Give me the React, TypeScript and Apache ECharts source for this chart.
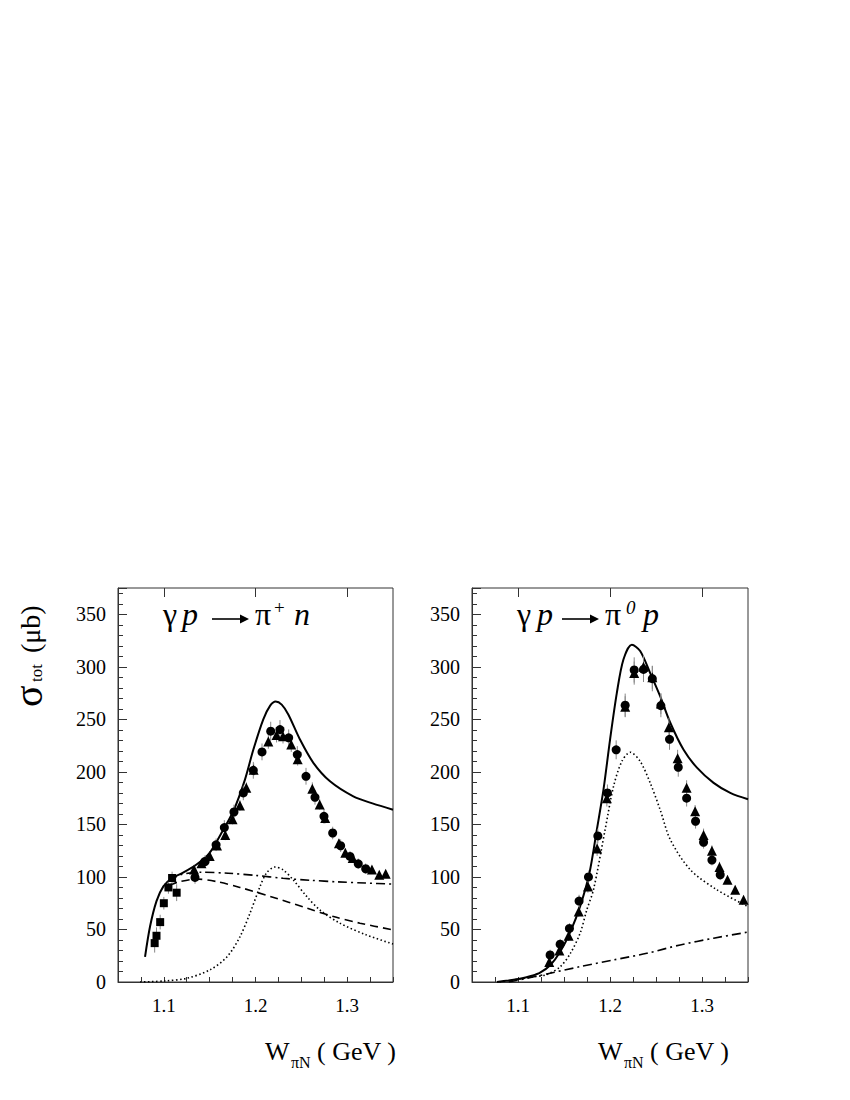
import React, { useEffect, useRef } from "react";
import * as echarts from "echarts";

// ---------- tick labels ----------
const xTickLabels = [1.1, 1.2, 1.3];
const xMajorTicks = [1.1, 1.2, 1.3];

// ---------- left panel: gamma p -> pi+ n ----------
const leftSquaresX = [1.090, 1.092, 1.096, 1.100, 1.105, 1.109, 1.114];
const leftSquaresY = [37, 44, 57, 75, 90, 99, 85];
const leftSquaresErr = [9, 8, 7, 6, 6, 6, 8];

const leftCirclesX = [1.134, 1.145, 1.157, 1.166, 1.1765, 1.1867, 1.1976, 1.2071, 1.2166, 1.2267, 1.2362, 1.2456, 1.2551, 1.2649, 1.2747, 1.2842, 1.2929, 1.3031, 1.3121, 1.3202];
const leftCirclesY = [99.5, 114.7, 130.6, 147, 161.8, 180, 201.5, 219, 238.7, 240.3, 232.4, 216.5, 195.8, 175.8, 157.7, 141.8, 129.7, 119.5, 112.5, 107.8];
const leftCirclesErr = [6, 6, 6, 7, 7, 7, 8, 8, 9, 9, 8, 8, 8, 7, 7, 6, 6, 5, 5, 5];

const leftTrianglesX = [1.133, 1.141, 1.150, 1.158, 1.167, 1.175, 1.183, 1.190, 1.198, 1.214, 1.223, 1.230, 1.239, 1.246, 1.262, 1.270, 1.276, 1.291, 1.298, 1.306, 1.327, 1.335, 1.342];
const leftTrianglesY = [107, 113, 120, 130, 140, 155, 168, 185, 202, 229, 235, 234, 226, 212, 184, 169, 156, 132, 123, 118, 107, 102, 103];
const leftTrianglesErr = [4, 4, 4, 4, 5, 5, 5, 5, 6, 7, 7, 7, 7, 6, 6, 5, 5, 4, 4, 4, 3, 3, 3];

const leftSolidX = [1.0795, 1.085, 1.092, 1.0995, 1.109, 1.121, 1.136, 1.150, 1.163, 1.176, 1.1885, 1.1976, 1.2085, 1.216, 1.222, 1.2286, 1.2358, 1.2485, 1.2631, 1.2813, 1.3067, 1.3276, 1.350];
const leftSolidY = [24, 53, 77, 91, 99, 104, 112, 123, 142, 163, 192.6, 221, 250, 263, 267, 264, 254.6, 230.8, 208.6, 191, 176.7, 170, 164];

const leftDashDotX = [1.106, 1.118, 1.140, 1.170, 1.200, 1.230, 1.260, 1.290, 1.320, 1.350];
const leftDashDotY = [96, 102, 104.5, 103.5, 101.5, 98.7, 96.8, 95.3, 94.2, 93.2];

const leftDashedX = [1.106, 1.115, 1.136, 1.158, 1.183, 1.216, 1.256, 1.285, 1.314, 1.350];
const leftDashedY = [92, 95, 98, 95.5, 90, 81.5, 70.3, 62.3, 56, 49.6];

const leftDottedX = [1.074, 1.101, 1.125, 1.150, 1.169, 1.183, 1.194, 1.205, 1.212, 1.221, 1.230, 1.241, 1.256, 1.270, 1.292, 1.321, 1.350];
const leftDottedY = [0, 1, 3.5, 11.4, 24, 43, 65.5, 91, 103.7, 109.4, 106.8, 97.3, 81.3, 68.7, 56, 44.8, 36.2];

// ---------- right panel: gamma p -> pi0 p ----------
const rightCirclesX = [1.1349, 1.1458, 1.1559, 1.1664, 1.1766, 1.1868, 1.1972, 1.2067, 1.2165, 1.2263, 1.2364, 1.246, 1.2553, 1.2647, 1.2742, 1.2833, 1.293, 1.3017, 1.3108, 1.3198];
const rightCirclesY = [25.7, 36, 51, 77, 100, 139, 180, 221, 263.5, 297, 297.5, 288.7, 263, 231, 204.4, 175, 153, 133, 116, 102];
const rightCirclesErr = [5, 5, 5, 6, 6, 7, 8, 9, 11, 12, 12, 12, 11, 10, 9, 8, 7, 6, 5, 5];

const rightTrianglesX = [1.134, 1.145, 1.155, 1.166, 1.176, 1.186, 1.1966, 1.2165, 1.2263, 1.2364, 1.246, 1.2553, 1.264, 1.2735, 1.2833, 1.2925, 1.3017, 1.3108, 1.319, 1.3277, 1.3361, 1.3452];
const rightTrianglesY = [19, 30, 44, 67, 91, 127, 175, 262, 294, 300, 290, 265, 242.5, 213, 185, 162.4, 140, 125, 109.4, 97.3, 87.7, 78.2];
const rightTrianglesErr = [4, 4, 5, 5, 6, 7, 8, 10, 11, 11, 11, 10, 9, 8, 7, 6, 6, 5, 5, 4, 4, 4];

const rightSolidX = [1.0772, 1.090, 1.102, 1.115, 1.124, 1.135, 1.146, 1.157, 1.1675, 1.1775, 1.1857, 1.1929, 1.2001, 1.2074, 1.2146, 1.2238, 1.2328, 1.2437, 1.2545, 1.2654, 1.280, 1.2945, 1.3126, 1.3307, 1.350];
const rightSolidY = [0, 1.5, 3, 6, 9, 16, 29, 48, 72, 103, 145, 183, 231, 275, 307, 321, 315, 294, 272, 247, 221, 204, 189.5, 180, 174];

const rightDottedX = [1.080, 1.117, 1.131, 1.146, 1.157, 1.1675, 1.1748, 1.1821, 1.1947, 1.2038, 1.2129, 1.222, 1.2328, 1.2437, 1.2545, 1.2656, 1.2873, 1.3163, 1.350];
const rightDottedY = [0, 5, 7, 14.6, 27.4, 46.4, 68.7, 88, 145, 186, 210, 218.7, 210, 189.5, 164, 135.4, 106.8, 87.7, 71.8];

const rightDashDotX = [1.090, 1.110, 1.131, 1.1675, 1.2038, 1.240, 1.2763, 1.3126, 1.350];
const rightDashDotY = [0, 3.5, 7.6, 14.6, 21, 27.3, 35.3, 41.7, 47.5];

// ---------- helpers ----------
const SERIF = "Liberation Serif";
const pairs = (xs: number[], ys: number[]) => xs.map((x, i) => [x, ys[i]]);
const triples = (xs: number[], ys: number[], es: number[]) => xs.map((x, i) => [x, ys[i], es[i]]);

function curve(g: number, xs: number[], ys: number[], type: any, width: number) {
  return {
    type: "line",
    xAxisIndex: g * 2,
    yAxisIndex: g,
    data: pairs(xs, ys),
    symbol: "none",
    showSymbol: false,
    smooth: 0.3,
    lineStyle: { color: "#000", width, type },
    z: 3,
    silent: true,
  };
}

function markers(g: number, xs: number[], ys: number[], symbol: string, size: number) {
  return {
    type: "scatter",
    xAxisIndex: g * 2,
    yAxisIndex: g,
    data: pairs(xs, ys),
    symbol,
    symbolSize: size,
    itemStyle: { color: "#000", opacity: 1 },
    z: 5,
    silent: true,
  };
}

function errorBars(g: number, xs: number[], ys: number[], es: number[]) {
  return {
    type: "custom",
    xAxisIndex: g * 2,
    yAxisIndex: g,
    data: triples(xs, ys, es),
    encode: { x: 0, y: 1 },
    z: 4,
    silent: true,
    renderItem: (_params: any, api: any) => {
      const x = api.value(0);
      const y = api.value(1);
      const e = api.value(2);
      const p1 = api.coord([x, y - e]);
      const p2 = api.coord([x, y + e]);
      return {
        type: "line",
        shape: { x1: p1[0], y1: p1[1], x2: p2[0], y2: p2[1] },
        style: { stroke: "#888", lineWidth: 1 },
      };
    },
  };
}

function xAxes(g: number) {
  const base = {
    type: "value",
    gridIndex: g,
    min: 1.05,
    max: 1.35,
    interval: 0.025,
    splitLine: { show: false },
  };
  return [
    {
      ...base,
      axisLine: { show: true, lineStyle: { color: "#333", width: 1 } },
      axisTick: { show: true, inside: true, length: 5, lineStyle: { color: "#333" } },
      axisLabel: {
        show: true,
        margin: 14,
        color: "#000",
        fontSize: 19,
        fontFamily: SERIF,
        formatter: (v: number) => {
          const t = xTickLabels.find((l) => Math.abs(l - v) < 1e-6);
          return t !== undefined ? t.toFixed(1) : "";
        },
      },
    },
    {
      ...base,
      axisLine: { show: false },
      axisLabel: { show: false },
      axisTick: { show: true, inside: true, length: 9, customValues: xMajorTicks, lineStyle: { color: "#333" } },
    },
  ];
}

function yAxis(g: number) {
  return {
    type: "value",
    gridIndex: g,
    min: 0,
    max: 375,
    interval: 50,
    splitLine: { show: false },
    axisLine: { show: true, lineStyle: { color: "#333", width: 1 } },
    axisTick: { show: true, inside: true, length: 9, lineStyle: { color: "#333" } },
    minorTick: { show: true, splitNumber: 5, length: 5, lineStyle: { color: "#333" } },
    axisLabel: {
      show: true,
      showMaxLabel: false,
      margin: 12,
      color: "#000",
      fontSize: 20,
      fontFamily: SERIF,
    },
  };
}

function txt(text: string, x: number, y: number, size: number, italic = false) {
  return {
    type: "text",
    x,
    y,
    silent: true,
    style: {
      text,
      fontFamily: SERIF,
      fontSize: size,
      fontStyle: italic ? "italic" : "normal",
      fill: "#000",
      textAlign: "left",
      align: "left",
      textVerticalAlign: "middle",
      verticalAlign: "middle",
    },
  };
}

function arrow(x1: number, x2: number, y: number) {
  return [
    { type: "line", silent: true, shape: { x1, y1: y, x2: x2 - 6, y2: y }, style: { stroke: "#000", lineWidth: 1.6 } },
    { type: "polygon", silent: true, shape: { points: [[x2 - 9, y - 4.5], [x2, y], [x2 - 9, y + 4.5]] }, style: { fill: "#000" } },
  ];
}

// positions: [gamma, p, arrowStart, arrowEnd, pi, superscript, last]
function title(pos: number[], sup: string, last: string, supItalic: boolean) {
  return [
    txt("γ", pos[0], 614, 32),
    txt("p", pos[1], 614, 32, true),
    ...arrow(pos[2], pos[3], 619),
    txt("π", pos[4], 614, 32),
    txt(sup, pos[5], 607, 19, supItalic),
    txt(last, pos[6], 614, 32, true),
  ];
}

function xName(x0: number) {
  return [
    txt("W", x0, 1051, 26),
    txt("πN", x0 + 26, 1062, 16),
    txt("( GeV )", x0 + 52, 1051, 26),
  ];
}

const yName = {
  type: "group",
  x: 42,
  y: 707,
  rotation: Math.PI / 2,
  children: [
    txt("σ", 0, -14, 40),
    txt("tot", 25, -6, 17),
    txt("(μb)", 54, -12, 28),
  ],
};

export default function App() {
  const ref = useRef<HTMLDivElement>(null);

  useEffect(() => {
    if (!ref.current) return;
    const chart = echarts.init(ref.current, undefined, { renderer: "svg" });
    const option: any = {
      animation: false,
      backgroundColor: "#fff",
      textStyle: { fontFamily: SERIF },
      grid: [
        { left: 118, top: 588, width: 275, height: 394, show: true, borderColor: "#333", borderWidth: 1, backgroundColor: "transparent" },
        { left: 472, top: 588, width: 276, height: 394, show: true, borderColor: "#333", borderWidth: 1, backgroundColor: "transparent" },
      ],
      xAxis: [...xAxes(0), ...xAxes(1)],
      yAxis: [yAxis(0), yAxis(1)],
      series: [
        // left panel
        curve(0, leftSolidX, leftSolidY, "solid", 2),
        curve(0, leftDashDotX, leftDashDotY, [9, 4, 2, 4], 1.6),
        curve(0, leftDashedX, leftDashedY, [8, 5], 1.6),
        curve(0, leftDottedX, leftDottedY, [1.5, 2.5], 1.6),
        errorBars(0, leftSquaresX, leftSquaresY, leftSquaresErr),
        errorBars(0, leftCirclesX, leftCirclesY, leftCirclesErr),
        errorBars(0, leftTrianglesX, leftTrianglesY, leftTrianglesErr),
        markers(0, leftSquaresX, leftSquaresY, "rect", 8),
        markers(0, leftTrianglesX, leftTrianglesY, "triangle", 10),
        markers(0, leftCirclesX, leftCirclesY, "circle", 9),
        // right panel
        curve(1, rightSolidX, rightSolidY, "solid", 2),
        curve(1, rightDottedX, rightDottedY, [1.5, 2.5], 1.6),
        curve(1, rightDashDotX, rightDashDotY, [9, 4, 2, 4], 1.6),
        errorBars(1, rightCirclesX, rightCirclesY, rightCirclesErr),
        errorBars(1, rightTrianglesX, rightTrianglesY, rightTrianglesErr),
        markers(1, rightTrianglesX, rightTrianglesY, "triangle", 10),
        markers(1, rightCirclesX, rightCirclesY, "circle", 9),
      ],
      graphic: [
        ...title([163, 182, 212, 249, 255, 274, 294], "+", "n", false),
        ...title([517, 537, 562, 599, 605, 626, 643], "0", "p", true),
        ...xName(265),
        ...xName(598),
        yName,
      ],
    };
    chart.setOption(option);
    return () => chart.dispose();
  }, []);

  return (
    <div style={{ position: "fixed", left: 0, top: 0, width: 850, height: 1100, background: "#fff" }}>
      <div ref={ref} style={{ width: 850, height: 1100 }} />
    </div>
  );
}
